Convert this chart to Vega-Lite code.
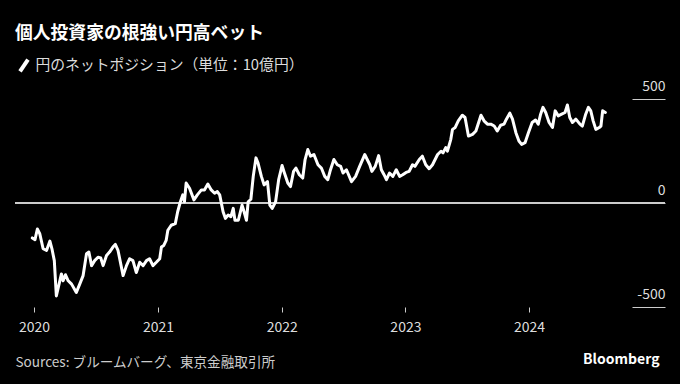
{
  "$schema": "https://vega.github.io/schema/vega-lite/v6.json",
  "width": 650,
  "height": 208,
  "autosize": {"type": "none"},
  "padding": {"left": 15, "top": 99, "right": 15, "bottom": 77},
  "background": "#000000",
  "config": {"view": {"stroke": null}, "font": "Noto Sans CJK JP"},
  "title": {
    "text": "個人投資家の根強い円高ベット",
    "anchor": "start",
    "frame": "group",
    "fontSize": 17.8,
    "fontWeight": "bold",
    "color": "#ffffff",
    "font": "Noto Sans CJK JP",
    "baseline": "alphabetic",
    "offset": 0
  },
  "data": {
    "values": [
      {"d": "2019-12-27", "v": -168}, {"d": "2020-01-04", "v": -176}, {"d": "2020-01-11", "v": -125},
      {"d": "2020-01-18", "v": -147}, {"d": "2020-01-28", "v": -220}, {"d": "2020-02-07", "v": -228},
      {"d": "2020-02-17", "v": -183}, {"d": "2020-02-23", "v": -220}, {"d": "2020-03-01", "v": -277},
      {"d": "2020-03-07", "v": -447}, {"d": "2020-03-15", "v": -390}, {"d": "2020-03-22", "v": -341},
      {"d": "2020-03-27", "v": -374}, {"d": "2020-04-03", "v": -345}, {"d": "2020-04-11", "v": -374},
      {"d": "2020-04-21", "v": -390}, {"d": "2020-05-05", "v": -430}, {"d": "2020-05-15", "v": -390},
      {"d": "2020-05-25", "v": -349}, {"d": "2020-06-04", "v": -244}, {"d": "2020-06-11", "v": -236},
      {"d": "2020-06-19", "v": -301}, {"d": "2020-06-28", "v": -277}, {"d": "2020-07-08", "v": -261},
      {"d": "2020-07-16", "v": -264}, {"d": "2020-07-23", "v": -301}, {"d": "2020-08-02", "v": -252},
      {"d": "2020-08-11", "v": -236}, {"d": "2020-08-21", "v": -212}, {"d": "2020-08-28", "v": -199},
      {"d": "2020-09-05", "v": -228}, {"d": "2020-09-20", "v": -349}, {"d": "2020-09-30", "v": -301},
      {"d": "2020-10-09", "v": -268}, {"d": "2020-10-19", "v": -277}, {"d": "2020-10-29", "v": -334},
      {"d": "2020-11-08", "v": -285}, {"d": "2020-11-18", "v": -301}, {"d": "2020-11-28", "v": -277},
      {"d": "2020-12-07", "v": -268}, {"d": "2020-12-17", "v": -301}, {"d": "2020-12-27", "v": -285},
      {"d": "2021-01-06", "v": -268}, {"d": "2021-01-11", "v": -212}, {"d": "2021-01-18", "v": -204},
      {"d": "2021-01-25", "v": -180}, {"d": "2021-01-30", "v": -131}, {"d": "2021-02-09", "v": -107},
      {"d": "2021-02-21", "v": -99}, {"d": "2021-02-28", "v": -42}, {"d": "2021-03-08", "v": 6},
      {"d": "2021-03-15", "v": 39}, {"d": "2021-03-20", "v": 6}, {"d": "2021-03-25", "v": 96},
      {"d": "2021-04-04", "v": 71}, {"d": "2021-04-17", "v": 15}, {"d": "2021-04-27", "v": 39},
      {"d": "2021-05-09", "v": 63}, {"d": "2021-05-18", "v": 63}, {"d": "2021-05-28", "v": 91},
      {"d": "2021-06-07", "v": 63}, {"d": "2021-06-17", "v": 47}, {"d": "2021-06-25", "v": 55},
      {"d": "2021-07-02", "v": 39}, {"d": "2021-07-12", "v": -42}, {"d": "2021-07-19", "v": -74},
      {"d": "2021-07-27", "v": -58}, {"d": "2021-08-04", "v": -66}, {"d": "2021-08-11", "v": -26},
      {"d": "2021-08-16", "v": -83}, {"d": "2021-08-26", "v": -83}, {"d": "2021-09-06", "v": -10},
      {"d": "2021-09-12", "v": -42}, {"d": "2021-09-19", "v": -83}, {"d": "2021-09-24", "v": 6},
      {"d": "2021-10-02", "v": 18}, {"d": "2021-10-09", "v": 128}, {"d": "2021-10-17", "v": 217},
      {"d": "2021-10-23", "v": 193}, {"d": "2021-11-02", "v": 128}, {"d": "2021-11-10", "v": 87},
      {"d": "2021-11-20", "v": 103}, {"d": "2021-11-27", "v": -10}, {"d": "2021-12-04", "v": -26},
      {"d": "2021-12-14", "v": 6}, {"d": "2021-12-23", "v": 112}, {"d": "2022-01-02", "v": 180},
      {"d": "2022-01-09", "v": 144}, {"d": "2022-01-19", "v": 96}, {"d": "2022-01-27", "v": 79},
      {"d": "2022-02-05", "v": 152}, {"d": "2022-02-12", "v": 168}, {"d": "2022-02-22", "v": 136},
      {"d": "2022-03-04", "v": 120}, {"d": "2022-03-11", "v": 209}, {"d": "2022-03-19", "v": 257},
      {"d": "2022-03-27", "v": 225}, {"d": "2022-04-06", "v": 233}, {"d": "2022-04-18", "v": 184},
      {"d": "2022-04-28", "v": 168}, {"d": "2022-05-08", "v": 128}, {"d": "2022-05-17", "v": 112},
      {"d": "2022-05-25", "v": 160}, {"d": "2022-06-04", "v": 209}, {"d": "2022-06-14", "v": 184},
      {"d": "2022-06-24", "v": 176}, {"d": "2022-07-01", "v": 144}, {"d": "2022-07-11", "v": 160},
      {"d": "2022-07-26", "v": 103}, {"d": "2022-08-07", "v": 128}, {"d": "2022-08-19", "v": 176},
      {"d": "2022-09-03", "v": 233}, {"d": "2022-09-18", "v": 184}, {"d": "2022-09-24", "v": 152},
      {"d": "2022-10-04", "v": 176}, {"d": "2022-10-14", "v": 228}, {"d": "2022-10-22", "v": 160},
      {"d": "2022-10-30", "v": 136}, {"d": "2022-11-06", "v": 112}, {"d": "2022-11-15", "v": 144},
      {"d": "2022-11-25", "v": 128}, {"d": "2022-12-05", "v": 160}, {"d": "2022-12-15", "v": 128},
      {"d": "2022-12-24", "v": 136}, {"d": "2023-01-03", "v": 147}, {"d": "2023-01-12", "v": 152},
      {"d": "2023-01-22", "v": 184}, {"d": "2023-01-29", "v": 176}, {"d": "2023-02-11", "v": 209},
      {"d": "2023-02-20", "v": 225}, {"d": "2023-03-02", "v": 184}, {"d": "2023-03-12", "v": 165},
      {"d": "2023-03-22", "v": 184}, {"d": "2023-04-06", "v": 233}, {"d": "2023-04-16", "v": 249},
      {"d": "2023-04-22", "v": 241}, {"d": "2023-04-30", "v": 266}, {"d": "2023-05-05", "v": 249},
      {"d": "2023-05-15", "v": 306}, {"d": "2023-05-20", "v": 354}, {"d": "2023-05-28", "v": 363},
      {"d": "2023-06-06", "v": 395}, {"d": "2023-06-18", "v": 422}, {"d": "2023-06-26", "v": 411},
      {"d": "2023-07-06", "v": 322}, {"d": "2023-07-18", "v": 330}, {"d": "2023-07-28", "v": 346},
      {"d": "2023-08-12", "v": 422}, {"d": "2023-08-21", "v": 395}, {"d": "2023-08-31", "v": 379},
      {"d": "2023-09-10", "v": 379}, {"d": "2023-09-20", "v": 370}, {"d": "2023-09-29", "v": 346},
      {"d": "2023-10-09", "v": 374}, {"d": "2023-10-19", "v": 379}, {"d": "2023-10-26", "v": 403},
      {"d": "2023-11-05", "v": 432}, {"d": "2023-11-13", "v": 403}, {"d": "2023-11-23", "v": 338},
      {"d": "2023-12-02", "v": 298}, {"d": "2023-12-10", "v": 282}, {"d": "2023-12-20", "v": 290},
      {"d": "2023-12-30", "v": 338}, {"d": "2024-01-10", "v": 387}, {"d": "2024-01-20", "v": 399},
      {"d": "2024-01-28", "v": 379}, {"d": "2024-02-04", "v": 427}, {"d": "2024-02-11", "v": 460},
      {"d": "2024-02-19", "v": 435}, {"d": "2024-02-29", "v": 387}, {"d": "2024-03-10", "v": 363},
      {"d": "2024-03-18", "v": 443}, {"d": "2024-03-27", "v": 419}, {"d": "2024-04-06", "v": 427},
      {"d": "2024-04-16", "v": 435}, {"d": "2024-04-23", "v": 471}, {"d": "2024-04-30", "v": 411},
      {"d": "2024-05-08", "v": 387}, {"d": "2024-05-18", "v": 403}, {"d": "2024-05-30", "v": 379},
      {"d": "2024-06-06", "v": 370}, {"d": "2024-06-16", "v": 427}, {"d": "2024-06-24", "v": 460},
      {"d": "2024-07-01", "v": 443}, {"d": "2024-07-08", "v": 395}, {"d": "2024-07-16", "v": 354},
      {"d": "2024-07-26", "v": 363}, {"d": "2024-07-31", "v": 370}, {"d": "2024-08-05", "v": 443},
      {"d": "2024-08-13", "v": 435}
    ]
  },
  "layer": [
    {
      "mark": {"type": "rule", "color": "#cccccc", "strokeWidth": 1},
      "encoding": {"y": {"datum": 0, "type": "quantitative"}}
    },
    {
      "mark": {"type": "line", "strokeWidth": 3, "strokeJoin": "round", "strokeCap": "round"},
      "encoding": {
        "x": {
          "field": "d",
          "type": "temporal",
          "scale": {
            "type": "utc",
            "domain": [
              {"year": 2019, "month": 11, "date": 6, "utc": true},
              {"year": 2025, "month": 2, "date": 5, "utc": true}
            ]
          },
          "axis": {
            "values": [
              {"year": 2020, "month": 1, "date": 1, "utc": true},
              {"year": 2021, "month": 1, "date": 1, "utc": true},
              {"year": 2022, "month": 1, "date": 1, "utc": true},
              {"year": 2023, "month": 1, "date": 1, "utc": true},
              {"year": 2024, "month": 1, "date": 1, "utc": true}
            ],
            "labelExpr": "utcFormat(datum.value, '%Y')",
            "tickSize": 5,
            "tickColor": "#cccccc",
            "tickWidth": 1,
            "domain": false,
            "grid": false,
            "labelFont": "Noto Sans CJK JP",
            "labelFontSize": 14,
            "labelColor": "#dddddd",
            "labelPadding": 8,
            "title": "Sources: ブルームバーグ、東京金融取引所",
            "titleFont": "Noto Sans CJK JP",
            "titleAlign": "left",
            "titleX": 0,
            "titleY": 59,
            "titleBaseline": "alphabetic",
            "titleFontSize": 13.6,
            "titleFontWeight": "normal",
            "titleColor": "#cccccc"
          }
        },
        "y": {
          "field": "v",
          "type": "quantitative",
          "scale": {"domain": [-500, 500]},
          "axis": {
            "orient": "right",
            "values": [-500, 0, 500],
            "labelExpr": "datum.value < 0 ? '-' + abs(datum.value) : '' + datum.value",
            "tickSize": -33,
            "tickColor": "#cccccc",
            "tickWidth": 1,
            "domain": false,
            "grid": false,
            "labelAlign": "right",
            "labelBaseline": "alphabetic",
            "labelPadding": 33,
            "labelOffset": -9,
            "labelFont": "Noto Sans CJK JP",
            "labelFontSize": 14,
            "labelColor": "#dddddd",
            "title": "Bloomberg",
            "titleFont": "Noto Sans CJK JP",
            "titleAngle": 0,
            "titleAlign": "right",
            "titleBaseline": "alphabetic",
            "titleX": -6,
            "titleY": 264,
            "titleFontSize": 14,
            "titleFontWeight": "bold",
            "titleColor": "#ffffff"
          }
        },
        "color": {
          "datum": "円のネットポジション（単位：10億円）",
          "scale": {"range": ["#ffffff"]},
          "legend": {
            "orient": "none",
            "legendX": 0.5,
            "legendY": -42,
            "title": null,
            "symbolType": "M-0.65,0.95L0.65,-0.95",
            "symbolSize": 150,
            "symbolStrokeWidth": 4,
            "labelFont": "Noto Sans CJK JP",
            "labelFontSize": 14.8,
            "labelColor": "#dddddd",
            "labelOffset": 3,
            "labelLimit": 0,
            "padding": 0
          }
        }
      }
    }
  ]
}
